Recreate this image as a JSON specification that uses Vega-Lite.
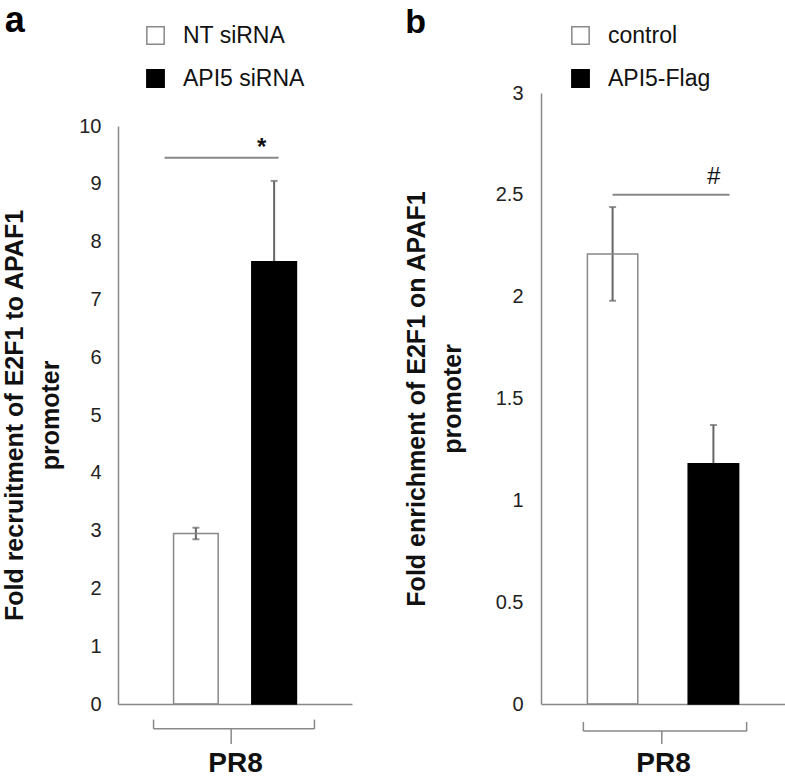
{
  "$schema": "https://vega.github.io/schema/vega-lite/v6.json",
  "padding": {"left": 2, "top": 3, "right": 0, "bottom": 0},
  "bounds": "flush",
  "spacing": 189,
  "resolve": {"scale": {"fill": "independent", "stroke": "independent"}, "legend": {"fill": "independent", "stroke": "independent"}},
  "config": {"view": {"stroke": null}, "font": "Liberation Sans"},
  "datasets": {
    "barsA": [
      {"condition": "NT siRNA", "mean": 2.95, "lo": 2.85, "hi": 3.05},
      {"condition": "API5 siRNA", "mean": 7.65, "lo": 6.25, "hi": 9.05}
    ],
    "sigA": [{"from": "NT siRNA", "to": "API5 siRNA", "y": 9.45, "label": "*", "ty": 9.5}],
    "barsB": [
      {"condition": "control", "mean": 2.21, "lo": 1.98, "hi": 2.44},
      {"condition": "API5-Flag", "mean": 1.18, "lo": 0.99, "hi": 1.37}
    ],
    "sigB": [{"from": "control", "to": "API5-Flag", "y": 2.5, "label": "#", "ty": 2.555}]
  },
  "hconcat": [
    {
      "width": 234,
      "height": 611,
      "title": {"text": "a", "anchor": "start", "frame": "bounds", "fontSize": 36, "fontWeight": "bold", "color": "#000", "dy": 20, "dx": 2},
      "layer": [
        {
          "data": {"name": "barsA"},
          "mark": {"type": "rule", "color": "#666", "strokeWidth": 2},
          "encoding": {
            "x": {"field": "condition", "type": "nominal", "scale": {"domain": ["NT siRNA", "API5 siRNA"], "paddingInner": 0.43, "paddingOuter": 0.71},
              "axis": {"title": "PR8", "labels": false, "ticks": false, "grid": false, "domainColor": "#888", "domainWidth": 1.5, "titleFontSize": 28, "titleFontWeight": "bold", "titlePadding": 45, "titleColor": "#111"}},
            "y": {"field": "lo", "type": "quantitative", "scale": {"domain": [0, 10], "range": [611, 33]},
              "axis": {"title": ["Fold recruitment of E2F1 to APAF1", "promoter"], "values": [0, 1, 2, 3, 4, 5, 6, 7, 8, 9, 10], "format": "d", "ticks": false, "grid": false, "domainColor": "#888", "domainWidth": 1.5, "labelFontSize": 20, "labelColor": "#222", "labelPadding": 17, "titleFontSize": 25, "titleFontWeight": "bold", "titleLineHeight": 36, "titlePadding": 15, "titleColor": "#111"}},
            "y2": {"field": "hi"}
          }
        },
        {
          "data": {"name": "barsA"},
          "mark": {"type": "tick", "orient": "horizontal", "size": 7, "thickness": 2, "color": "#666"},
          "encoding": {
            "x": {"field": "condition", "type": "nominal", "scale": {"domain": ["NT siRNA", "API5 siRNA"]}},
            "y": {"field": "hi", "type": "quantitative"}
          }
        },
        {
          "data": {"name": "barsA"},
          "mark": {"type": "tick", "orient": "horizontal", "size": 7, "thickness": 2, "color": "#666"},
          "encoding": {
            "x": {"field": "condition", "type": "nominal", "scale": {"domain": ["NT siRNA", "API5 siRNA"]}},
            "y": {"field": "lo", "type": "quantitative"}
          }
        },
        {
          "data": {"name": "barsA"},
          "mark": {"type": "bar", "strokeWidth": 1.5},
          "encoding": {
            "x": {"field": "condition", "type": "nominal", "scale": {"domain": ["NT siRNA", "API5 siRNA"]}},
            "y": {"field": "mean", "type": "quantitative"},
            "fill": {"field": "condition", "type": "nominal", "scale": {"domain": ["NT siRNA", "API5 siRNA"], "range": ["transparent", "#000"]},
              "legend": {"orient": "none", "legendX": 26, "legendY": -69, "title": null, "symbolType": "square", "symbolSize": 300, "symbolStrokeWidth": 1.5, "labelFontSize": 23, "labelOffset": 16, "rowPadding": 18, "labelColor": "#111", "padding": 0}},
            "stroke": {"field": "condition", "type": "nominal", "scale": {"domain": ["NT siRNA", "API5 siRNA"], "range": ["#888", "#000"]},
              "legend": {"orient": "none", "legendX": 26, "legendY": -69, "title": null, "symbolType": "square", "symbolSize": 300, "symbolStrokeWidth": 1.5, "labelFontSize": 23, "labelOffset": 16, "rowPadding": 18, "labelColor": "#111", "padding": 0}}
          }
        },
        {
          "data": {"name": "sigA"},
          "mark": {"type": "rule", "color": "#888", "strokeWidth": 2, "xOffset": -9},
          "encoding": {
            "x": {"field": "from", "type": "nominal", "bandPosition": 0, "scale": {"domain": ["NT siRNA", "API5 siRNA"]}},
            "x2": {"field": "to", "bandPosition": 0.6},
            "y": {"field": "y", "type": "quantitative"}
          }
        },
        {
          "data": {"name": "sigA"},
          "mark": {"type": "text", "fontSize": 24, "fontWeight": "bold", "baseline": "alphabetic", "color": "#111"},
          "encoding": {
            "x": {"field": "to", "type": "nominal", "bandPosition": 0.22, "scale": {"domain": ["NT siRNA", "API5 siRNA"]}},
            "y": {"field": "ty", "type": "quantitative"},
            "text": {"field": "label"}
          }
        },
        {
          "data": {"name": "sigA"},
          "mark": {"type": "rule", "color": "#888", "strokeWidth": 1.5, "xOffset": -20, "x2Offset": 18},
          "encoding": {
            "x": {"field": "from", "type": "nominal", "bandPosition": 0, "scale": {"domain": ["NT siRNA", "API5 siRNA"]}},
            "x2": {"field": "to", "bandPosition": 1},
            "y": {"datum": -0.43, "type": "quantitative"}
          }
        },
        {
          "data": {"name": "sigA"},
          "mark": {"type": "rule", "color": "#888", "strokeWidth": 1.5, "xOffset": -20},
          "encoding": {
            "x": {"field": "from", "type": "nominal", "bandPosition": 0, "scale": {"domain": ["NT siRNA", "API5 siRNA"]}},
            "y": {"datum": -0.43, "type": "quantitative"},
            "y2": {"datum": -0.27}
          }
        },
        {
          "data": {"name": "sigA"},
          "mark": {"type": "rule", "color": "#888", "strokeWidth": 1.5, "xOffset": 18},
          "encoding": {
            "x": {"field": "to", "type": "nominal", "bandPosition": 1, "scale": {"domain": ["NT siRNA", "API5 siRNA"]}},
            "y": {"datum": -0.43, "type": "quantitative"},
            "y2": {"datum": -0.27}
          }
        },
        {
          "data": {"name": "sigA"},
          "mark": {"type": "rule", "color": "#888", "strokeWidth": 1.5, "xOffset": 13},
          "encoding": {
            "x": {"field": "from", "type": "nominal", "bandPosition": 1, "scale": {"domain": ["NT siRNA", "API5 siRNA"]}},
            "y": {"datum": -0.43, "type": "quantitative"},
            "y2": {"datum": -0.69}
          }
        }
      ]
    },
    {
      "width": 244,
      "height": 611,
      "title": {"text": "b", "anchor": "start", "frame": "bounds", "fontSize": 34, "fontWeight": "bold", "color": "#000", "dy": 20, "dx": 1},
      "layer": [
        {
          "data": {"name": "barsB"},
          "mark": {"type": "rule", "color": "#666", "strokeWidth": 2},
          "encoding": {
            "x": {"field": "condition", "type": "nominal", "scale": {"domain": ["control", "API5-Flag"], "paddingInner": 0.5, "paddingOuter": 0.46},
              "axis": {"title": "PR8", "labels": false, "ticks": false, "grid": false, "domainColor": "#888", "domainWidth": 1.5, "titleFontSize": 28, "titleFontWeight": "bold", "titlePadding": 45, "titleColor": "#111"}},
            "y": {"field": "lo", "type": "quantitative", "scale": {"domain": [0, 3]},
              "axis": {"title": ["Fold enrichment of E2F1 on APAF1", "promoter"], "values": [0, 0.5, 1, 1.5, 2, 2.5, 3], "format": "~g", "ticks": false, "grid": false, "domainColor": "#888", "domainWidth": 1.5, "labelFontSize": 20, "labelColor": "#222", "labelPadding": 18, "titleFontSize": 25, "titleFontWeight": "bold", "titleLineHeight": 36, "titlePadding": 30, "titleColor": "#111"}},
            "y2": {"field": "hi"}
          }
        },
        {
          "data": {"name": "barsB"},
          "mark": {"type": "tick", "orient": "horizontal", "size": 7, "thickness": 2, "color": "#666"},
          "encoding": {
            "x": {"field": "condition", "type": "nominal", "scale": {"domain": ["control", "API5-Flag"]}},
            "y": {"field": "hi", "type": "quantitative"}
          }
        },
        {
          "data": {"name": "barsB"},
          "mark": {"type": "tick", "orient": "horizontal", "size": 7, "thickness": 2, "color": "#666"},
          "encoding": {
            "x": {"field": "condition", "type": "nominal", "scale": {"domain": ["control", "API5-Flag"]}},
            "y": {"field": "lo", "type": "quantitative"}
          }
        },
        {
          "data": {"name": "barsB"},
          "mark": {"type": "bar", "strokeWidth": 1.5},
          "encoding": {
            "x": {"field": "condition", "type": "nominal", "scale": {"domain": ["control", "API5-Flag"]}},
            "y": {"field": "mean", "type": "quantitative"},
            "fill": {"field": "condition", "type": "nominal", "scale": {"domain": ["control", "API5-Flag"], "range": ["transparent", "#000"]},
              "legend": {"orient": "none", "legendX": 28, "legendY": -69, "title": null, "symbolType": "square", "symbolSize": 300, "symbolStrokeWidth": 1.5, "labelFontSize": 23, "labelOffset": 16, "rowPadding": 18, "labelColor": "#111", "padding": 0}},
            "stroke": {"field": "condition", "type": "nominal", "scale": {"domain": ["control", "API5-Flag"], "range": ["#888", "#000"]},
              "legend": {"orient": "none", "legendX": 28, "legendY": -69, "title": null, "symbolType": "square", "symbolSize": 300, "symbolStrokeWidth": 1.5, "labelFontSize": 23, "labelOffset": 16, "rowPadding": 18, "labelColor": "#111", "padding": 0}}
          }
        },
        {
          "data": {"name": "sigB"},
          "mark": {"type": "rule", "color": "#888", "strokeWidth": 2},
          "encoding": {
            "x": {"field": "from", "type": "nominal", "bandPosition": 0.5, "scale": {"domain": ["control", "API5-Flag"]}},
            "x2": {"field": "to", "bandPosition": 0.82},
            "y": {"field": "y", "type": "quantitative"}
          }
        },
        {
          "data": {"name": "sigB"},
          "mark": {"type": "text", "fontSize": 24, "fontStyle": "italic", "baseline": "alphabetic", "color": "#111"},
          "encoding": {
            "x": {"field": "to", "type": "nominal", "bandPosition": 0.5, "scale": {"domain": ["control", "API5-Flag"]}},
            "y": {"field": "ty", "type": "quantitative"},
            "text": {"field": "label"}
          }
        },
        {
          "data": {"name": "sigB"},
          "mark": {"type": "rule", "color": "#888", "strokeWidth": 1.5, "xOffset": -4, "x2Offset": 8},
          "encoding": {
            "x": {"field": "from", "type": "nominal", "bandPosition": 0, "scale": {"domain": ["control", "API5-Flag"]}},
            "x2": {"field": "to", "bandPosition": 1},
            "y": {"datum": -0.133, "type": "quantitative"}
          }
        },
        {
          "data": {"name": "sigB"},
          "mark": {"type": "rule", "color": "#888", "strokeWidth": 1.5, "xOffset": -4},
          "encoding": {
            "x": {"field": "from", "type": "nominal", "bandPosition": 0, "scale": {"domain": ["control", "API5-Flag"]}},
            "y": {"datum": -0.133, "type": "quantitative"},
            "y2": {"datum": -0.088}
          }
        },
        {
          "data": {"name": "sigB"},
          "mark": {"type": "rule", "color": "#888", "strokeWidth": 1.5, "xOffset": 8},
          "encoding": {
            "x": {"field": "to", "type": "nominal", "bandPosition": 1, "scale": {"domain": ["control", "API5-Flag"]}},
            "y": {"datum": -0.133, "type": "quantitative"},
            "y2": {"datum": -0.088}
          }
        },
        {
          "data": {"name": "sigB"},
          "mark": {"type": "rule", "color": "#888", "strokeWidth": 1.5, "xOffset": 24},
          "encoding": {
            "x": {"field": "from", "type": "nominal", "bandPosition": 1, "scale": {"domain": ["control", "API5-Flag"]}},
            "y": {"datum": -0.133, "type": "quantitative"},
            "y2": {"datum": -0.196}
          }
        }
      ]
    }
  ]
}
